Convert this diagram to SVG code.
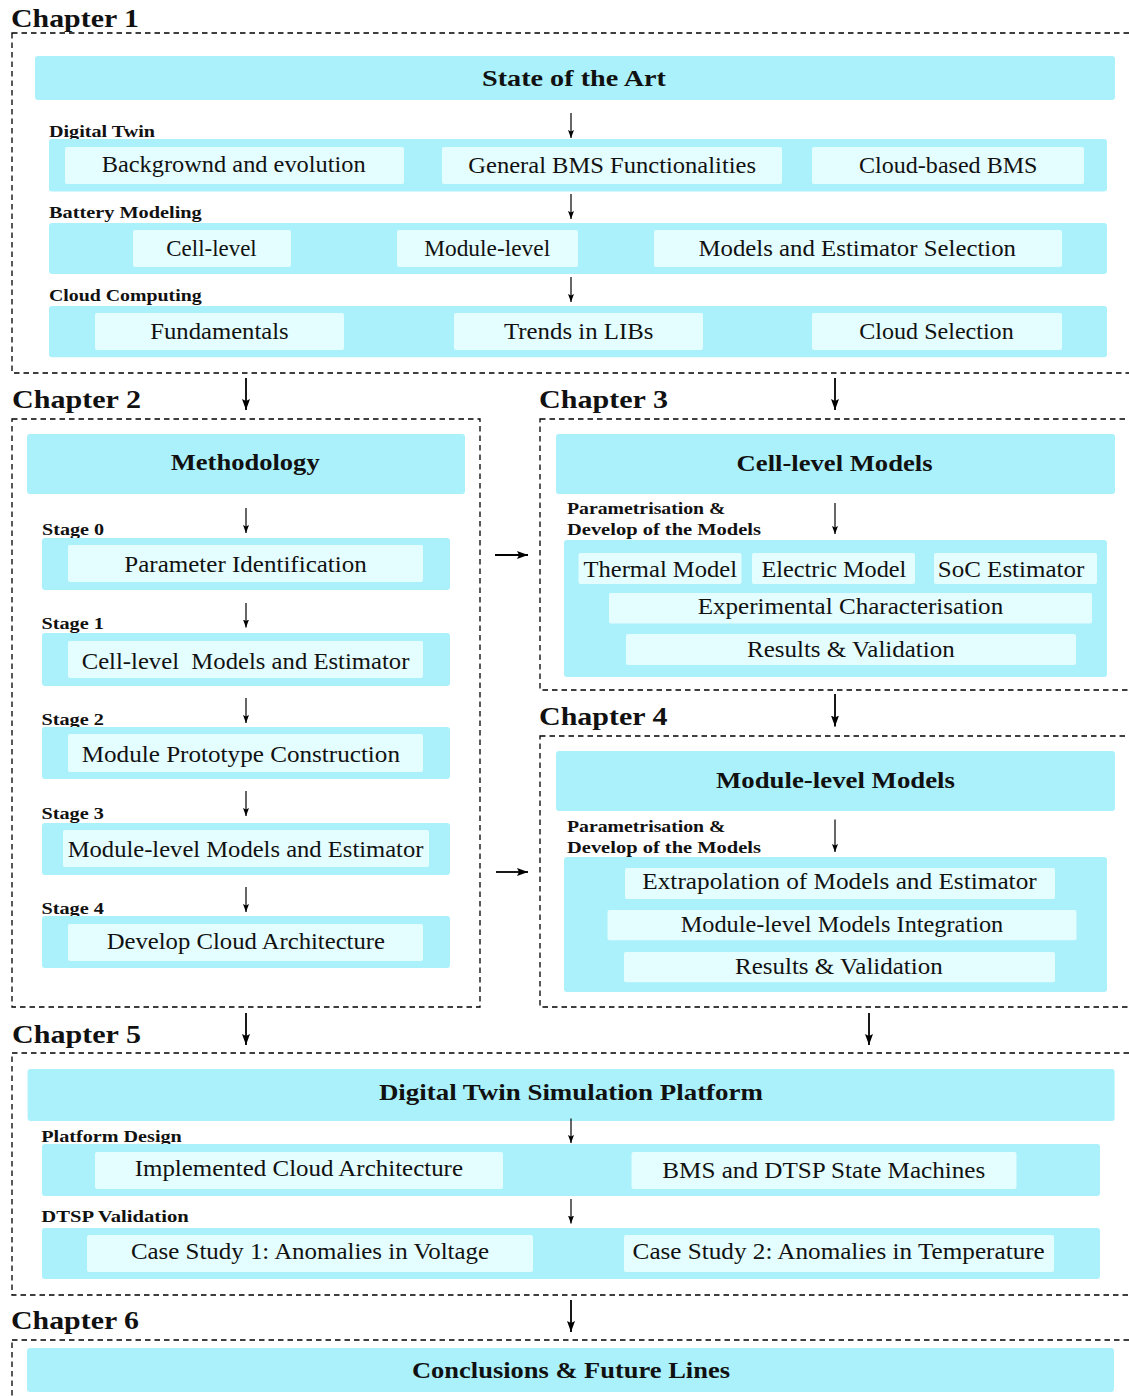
<svg xmlns="http://www.w3.org/2000/svg" width="1129" height="1396" viewBox="0 0 1129 1396">
<style>
.frame{fill:none;stroke:#000;stroke-width:1.3;stroke-dasharray:5.5 4}
.hd{fill:#aaf1fc}
.ob{fill:#aaf1fc}
.ib{fill:#e4fdfe}
text{font-family:"Liberation Serif",serif;fill:#111}
.t{font-size:22.5px}
.b{font-size:22.5px;font-weight:bold}
.ch{font-size:25.5px;font-weight:bold}
.lb{font-size:16.5px;font-weight:bold}
.arr{stroke:#000;stroke-width:1.2;fill:none;marker-end:url(#ah)}
.carr{stroke:#000;stroke-width:1.8;fill:none;marker-end:url(#ahb)}
</style>
<defs>
<marker id="ah" viewBox="0 0 8 6" refX="8" refY="3" markerWidth="8" markerHeight="6" orient="auto" markerUnits="userSpaceOnUse"><path d="M0,0 L8,3 L0,6 L1.5,3 z" fill="#000"/></marker>
<marker id="ahb" viewBox="0 0 11 8" refX="11" refY="4" markerWidth="11" markerHeight="8" orient="auto" markerUnits="userSpaceOnUse"><path d="M0,0 L11,4 L0,8 L2,4 z" fill="#000"/></marker>
</defs>

<g id="chapter1">
<text class="ch" x="11" y="27" textLength="128" lengthAdjust="spacingAndGlyphs">Chapter 1</text>
<rect class="frame" x="12" y="33" width="1140" height="340"/>
<g id="state-of-the-art"><rect class="hd" x="35" y="56" width="1080" height="44" rx="3"/><text class="b" x="482" y="86" textLength="184" lengthAdjust="spacingAndGlyphs">State of the Art</text></g>
<g id="digital-twin">
<text class="lb" x="49" y="137" textLength="106" lengthAdjust="spacingAndGlyphs">Digital Twin</text>
<rect class="ob" x="49" y="139" width="1058" height="52.5" rx="3"/>
<rect class="ib" x="65" y="147" width="339" height="37" rx="2"/><text class="t" x="101.7" y="172" textLength="264" lengthAdjust="spacingAndGlyphs">Backgrownd and evolution</text>
<rect class="ib" x="442" y="147" width="340" height="37" rx="2"/><text class="t" x="468.3" y="172.5" textLength="287.7" lengthAdjust="spacingAndGlyphs">General BMS Functionalities</text>
<rect class="ib" x="812" y="147" width="272" height="37" rx="2"/><text class="t" x="859" y="172.5" textLength="178.5" lengthAdjust="spacingAndGlyphs">Cloud-based BMS</text>
</g>
<g id="battery-modeling">
<text class="lb" x="49" y="217.5" textLength="152.7" lengthAdjust="spacingAndGlyphs">Battery Modeling</text>
<rect class="ob" x="49" y="223" width="1058" height="51" rx="3"/>
<rect class="ib" x="133" y="230" width="158" height="37" rx="2"/><text class="t" x="166.3" y="256" textLength="90.4" lengthAdjust="spacingAndGlyphs">Cell-level</text>
<rect class="ib" x="397" y="230" width="181" height="37" rx="2"/><text class="t" x="424.2" y="256" textLength="126" lengthAdjust="spacingAndGlyphs">Module-level</text>
<rect class="ib" x="654" y="230" width="408" height="37" rx="2"/><text class="t" x="698.5" y="256" textLength="317.5" lengthAdjust="spacingAndGlyphs">Models and Estimator Selection</text>
</g>
<g id="cloud-computing">
<text class="lb" x="49" y="301" textLength="152.7" lengthAdjust="spacingAndGlyphs">Cloud Computing</text>
<rect class="ob" x="49" y="306" width="1058" height="51.3" rx="3"/>
<rect class="ib" x="95" y="313" width="249" height="37" rx="2"/><text class="t" x="150.3" y="339" textLength="138.4" lengthAdjust="spacingAndGlyphs">Fundamentals</text>
<rect class="ib" x="454" y="313" width="249" height="37" rx="2"/><text class="t" x="504" y="339" textLength="149.4" lengthAdjust="spacingAndGlyphs">Trends in LIBs</text>
<rect class="ib" x="812" y="313" width="250" height="37" rx="2"/><text class="t" x="859.3" y="339" textLength="154.4" lengthAdjust="spacingAndGlyphs">Cloud Selection</text>
</g>
</g>

<g id="chapter2">
<text class="ch" x="12" y="408" textLength="129" lengthAdjust="spacingAndGlyphs">Chapter 2</text>
<rect class="frame" x="12" y="419" width="468" height="588"/>
<g id="methodology"><rect class="hd" x="27" y="434" width="438" height="60" rx="3"/><text class="b" x="170.7" y="470" textLength="149" lengthAdjust="spacingAndGlyphs">Methodology</text></g>
<g id="stage0">
<text class="lb" x="42" y="535" textLength="62" lengthAdjust="spacingAndGlyphs">Stage 0</text>
<rect class="ob" x="42" y="538" width="408" height="52" rx="3"/>
<rect class="ib" x="68" y="545" width="355" height="37" rx="2"/><text class="t" x="124.3" y="572" textLength="242.5" lengthAdjust="spacingAndGlyphs">Parameter Identification</text>
</g>
<g id="stage1">
<text class="lb" x="41.5" y="629" textLength="62.4" lengthAdjust="spacingAndGlyphs">Stage 1</text>
<rect class="ob" x="42" y="633" width="408" height="53" rx="3"/>
<rect class="ib" x="68" y="641" width="355" height="37" rx="2"/><text class="t" x="81.7" y="668.5" textLength="327.7" lengthAdjust="spacingAndGlyphs" xml:space="preserve">Cell-level  Models and Estimator</text>
</g>
<g id="stage2">
<text class="lb" x="41.5" y="725" textLength="62.4" lengthAdjust="spacingAndGlyphs">Stage 2</text>
<rect class="ob" x="42" y="727" width="408" height="52" rx="3"/>
<rect class="ib" x="68" y="734" width="355" height="38" rx="2"/><text class="t" x="81.7" y="761.5" textLength="318.3" lengthAdjust="spacingAndGlyphs">Module Prototype Construction</text>
</g>
<g id="stage3">
<text class="lb" x="41.5" y="818.5" textLength="62.4" lengthAdjust="spacingAndGlyphs">Stage 3</text>
<rect class="ob" x="42" y="823" width="408" height="52" rx="3"/>
<rect class="ib" x="63" y="830" width="366" height="37" rx="2"/><text class="t" x="67.7" y="857" textLength="355.7" lengthAdjust="spacingAndGlyphs">Module-level Models and Estimator</text>
</g>
<g id="stage4">
<text class="lb" x="41.5" y="914" textLength="62.4" lengthAdjust="spacingAndGlyphs">Stage 4</text>
<rect class="ob" x="42" y="916" width="408" height="52" rx="3"/>
<rect class="ib" x="68" y="924" width="355" height="37" rx="2"/><text class="t" x="106.7" y="948.5" textLength="278.3" lengthAdjust="spacingAndGlyphs">Develop Cloud Architecture</text>
</g>
</g>

<g id="chapter3">
<text class="ch" x="539" y="408" textLength="129" lengthAdjust="spacingAndGlyphs">Chapter 3</text>
<rect class="frame" x="540" y="419" width="600" height="271"/>
<g id="cell-level-models"><rect class="hd" x="556" y="434" width="559" height="60" rx="3"/><text class="b" x="736.6" y="471" textLength="196" lengthAdjust="spacingAndGlyphs">Cell-level Models</text></g>
<g id="cell-param">
<text class="lb" x="567" y="514" textLength="158.5" lengthAdjust="spacingAndGlyphs">Parametrisation &amp;</text>
<text class="lb" x="567" y="535" textLength="194" lengthAdjust="spacingAndGlyphs">Develop of the Models</text>
<rect class="ob" x="564" y="540" width="543" height="137" rx="3"/>
<rect class="ib" x="578.5" y="553" width="163" height="31" rx="2"/><text class="t" x="583.5" y="577" textLength="153.5" lengthAdjust="spacingAndGlyphs">Thermal Model</text>
<rect class="ib" x="752" y="553" width="163" height="31" rx="2"/><text class="t" x="761.5" y="577" textLength="144.8" lengthAdjust="spacingAndGlyphs">Electric Model</text>
<rect class="ib" x="934" y="553" width="163" height="31" rx="2"/><text class="t" x="937.8" y="577" textLength="146.5" lengthAdjust="spacingAndGlyphs">SoC Estimator</text>
<rect class="ib" x="609" y="593" width="483" height="30.6" rx="2"/><text class="t" x="697.7" y="614" textLength="305.5" lengthAdjust="spacingAndGlyphs">Experimental Characterisation</text>
<rect class="ib" x="626" y="634" width="450" height="31" rx="2"/><text class="t" x="747" y="657.3" textLength="207.7" lengthAdjust="spacingAndGlyphs">Results &amp; Validation</text>
</g>
</g>

<g id="chapter4">
<text class="ch" x="539" y="725" textLength="128.5" lengthAdjust="spacingAndGlyphs">Chapter 4</text>
<rect class="frame" x="540" y="736" width="600" height="271"/>
<g id="module-level-models"><rect class="hd" x="556" y="751" width="559" height="60" rx="3"/><text class="b" x="716" y="788" textLength="239" lengthAdjust="spacingAndGlyphs">Module-level Models</text></g>
<g id="module-param">
<text class="lb" x="567" y="831.7" textLength="158.5" lengthAdjust="spacingAndGlyphs">Parametrisation &amp;</text>
<text class="lb" x="567" y="853.3" textLength="194" lengthAdjust="spacingAndGlyphs">Develop of the Models</text>
<rect class="ob" x="564" y="857" width="543" height="135" rx="3"/>
<rect class="ib" x="625" y="868" width="430" height="31" rx="2"/><text class="t" x="642.3" y="889.3" textLength="394.4" lengthAdjust="spacingAndGlyphs">Extrapolation of Models and Estimator</text>
<rect class="ib" x="607.5" y="910" width="469" height="30.3" rx="2"/><text class="t" x="680.7" y="931.7" textLength="322.5" lengthAdjust="spacingAndGlyphs">Module-level Models Integration</text>
<rect class="ib" x="624" y="952" width="431" height="30.3" rx="2"/><text class="t" x="735" y="974.3" textLength="207.7" lengthAdjust="spacingAndGlyphs">Results &amp; Validation</text>
</g>
</g>

<g id="chapter5">
<text class="ch" x="12" y="1042.7" textLength="129" lengthAdjust="spacingAndGlyphs">Chapter 5</text>
<rect class="frame" x="12" y="1053" width="1140" height="242"/>
<g id="dtsp"><rect class="hd" x="27.6" y="1069" width="1087" height="52" rx="3"/><text class="b" x="378.9" y="1100" textLength="384" lengthAdjust="spacingAndGlyphs">Digital Twin Simulation Platform</text></g>
<g id="platform-design">
<text class="lb" x="41.3" y="1141.7" textLength="140.5" lengthAdjust="spacingAndGlyphs">Platform Design</text>
<rect class="ob" x="42" y="1144" width="1058" height="52" rx="3"/>
<rect class="ib" x="95" y="1152" width="408" height="37" rx="2"/><text class="t" x="134.7" y="1176" textLength="328.3" lengthAdjust="spacingAndGlyphs">Implemented Cloud Architecture</text>
<rect class="ib" x="631.5" y="1152" width="385" height="37" rx="2"/><text class="t" x="662.3" y="1177.5" textLength="323" lengthAdjust="spacingAndGlyphs">BMS and DTSP State Machines</text>
</g>
<g id="dtsp-validation">
<text class="lb" x="41.3" y="1222.3" textLength="147.4" lengthAdjust="spacingAndGlyphs">DTSP Validation</text>
<rect class="ob" x="42" y="1228" width="1058" height="51" rx="3"/>
<rect class="ib" x="87" y="1235" width="446" height="37" rx="2"/><text class="t" x="130.9" y="1258.7" textLength="358.2" lengthAdjust="spacingAndGlyphs">Case Study 1: Anomalies in Voltage</text>
<rect class="ib" x="624" y="1235" width="430" height="37" rx="2"/><text class="t" x="632.6" y="1259" textLength="412.2" lengthAdjust="spacingAndGlyphs">Case Study 2: Anomalies in Temperature</text>
</g>
</g>

<g id="chapter6">
<text class="ch" x="11" y="1329" textLength="128" lengthAdjust="spacingAndGlyphs">Chapter 6</text>
<rect class="frame" x="12" y="1340" width="1140" height="80"/>
<g id="conclusions"><rect class="hd" x="27" y="1348" width="1087" height="44" rx="3"/><text class="b" x="412" y="1377.5" textLength="318" lengthAdjust="spacingAndGlyphs">Conclusions &amp; Future Lines</text></g>
</g>

<g id="connectors">
<line class="arr" x1="571" y1="113" x2="571" y2="138"/>
<line class="arr" x1="571" y1="194" x2="571" y2="219"/>
<line class="arr" x1="571" y1="277" x2="571" y2="302"/>
<line class="arr" x1="246" y1="508" x2="246" y2="533"/>
<line class="arr" x1="246" y1="603" x2="246" y2="627.5"/>
<line class="arr" x1="246" y1="698" x2="246" y2="723"/>
<line class="arr" x1="246" y1="791" x2="246" y2="816"/>
<line class="arr" x1="246" y1="887" x2="246" y2="912"/>
<line class="arr" x1="835" y1="503" x2="835" y2="534"/>
<line class="arr" x1="835" y1="819.5" x2="835" y2="852"/>
<line class="arr" x1="571" y1="1118.5" x2="571" y2="1143"/>
<line class="arr" x1="571" y1="1199" x2="571" y2="1223.5"/>
<line class="carr" x1="246" y1="378" x2="246" y2="410"/>
<line class="carr" x1="835" y1="378" x2="835" y2="410"/>
<line class="carr" x1="835" y1="694" x2="835" y2="726.5"/>
<line class="carr" x1="495" y1="555" x2="528" y2="555"/>
<line class="carr" x1="496" y1="872" x2="528" y2="872"/>
<line class="carr" x1="246" y1="1013" x2="246" y2="1045"/>
<line class="carr" x1="869" y1="1013" x2="869" y2="1045"/>
<line class="carr" x1="571" y1="1300" x2="571" y2="1332"/>
</g>
</svg>
